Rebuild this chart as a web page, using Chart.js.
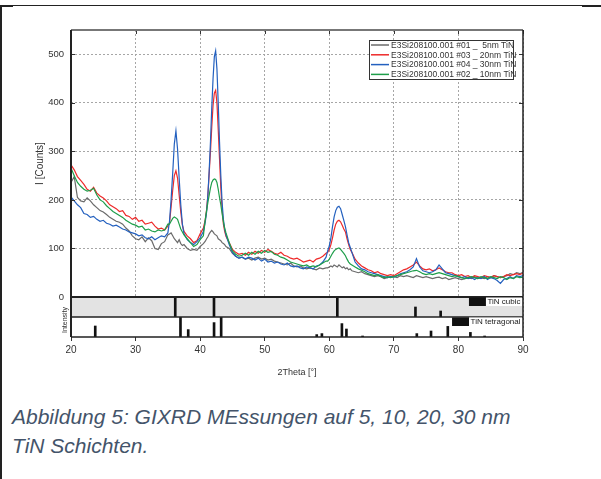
<!DOCTYPE html>
<html>
<head>
<meta charset="utf-8">
<script src="https://cdn.jsdelivr.net/npm/chart.js@4.4.0/dist/chart.umd.min.js"></script>
<style>
  body { margin: 0; background: #fff; width: 601px; height: 479px; overflow: hidden; position: relative; font-family: "Liberation Sans", Arial, sans-serif; }
  #wrap { position: absolute; left: 0; top: 0; width: 601px; height: 390px; }
  .line { position: absolute; background: #222; }
  .caption { position: absolute; left: 12px; top: 402px; font-style: italic; font-size: 21px; line-height: 29px; color: #44546A; white-space: nowrap; }
</style>
</head>
<body>
<div class="line" style="left:0;top:5px;width:601px;height:1px"></div>
<div class="line" style="left:0;top:5px;width:13px;height:2px"></div>
<div class="line" style="left:582px;top:5px;width:19px;height:2px"></div>
<div class="line" style="left:0;top:5px;width:2px;height:474px"></div>
<div id="wrap"><canvas id="xrd" width="601" height="390"></canvas></div>
<div class="caption">Abbildung 5: GIXRD MEssungen auf 5, 10, 20, 30 nm<br>TiN Schichten.</div>
<script>
var twoTheta = [20,20.5,21,21.5,22,22.5,23,23.5,24,24.5,25,25.5,26,26.5,27,27.5,28,28.5,29,29.5,30,30.5,31,31.5,32,32.5,33,33.5,34,34.5,35,
  35.25,35.5,35.75,36,36.25,36.5,36.75,37,37.25,37.5,
  38,38.5,39,39.5,40,40.5,
  40.8,41,41.2,41.4,41.6,41.8,42,42.2,42.4,42.6,42.8,43,43.2,43.4,43.6,43.8,44,
  44.5,45,45.5,46,46.5,47,47.5,48,48.5,49,49.5,50,50.5,51,51.5,52,52.5,53,53.5,54,54.5,55,55.5,56,56.5,57,57.5,58,58.5,59,59.5,
  59.75,60,60.25,60.5,60.75,61,61.25,61.5,61.75,62,62.25,62.5,62.75,63,63.25,63.5,
  64,64.5,65,65.5,66,66.5,67,67.5,68,68.5,69,69.5,70,70.5,71,71.5,72,72.5,73,73.5,74,74.5,75,75.5,76,76.5,77,77.5,78,78.5,79,79.5,80,80.5,81,81.5,82,82.5,83,83.5,84,84.5,85,85.5,86,86.5,87,87.5,88,88.5,89,89.5,90];

// #01 5nm
var gray5nm = [236,248,205,198,196,204,198,190,184,178,175,170,164,160,156,154,150,142,136,126,120,118,124,114,122,116,100,98,110,114,128,
  130,132,126,120,116,112,118,110,106,108,
  100,96,98,96,104,110,
  115,120,124,130,134,137,134,130,128,126,120,118,116,112,110,108,104,
  100,90,84,80,82,78,80,76,80,82,78,80,76,78,74,72,70,68,66,70,64,62,64,60,58,60,58,56,60,58,60,
  60,62,64,62,66,64,62,66,63,60,62,58,60,56,58,54,
  52,50,52,48,46,44,42,44,42,38,40,42,42,40,44,42,44,42,40,44,42,40,42,40,38,40,41,38,40,36,38,40,38,36,38,40,38,42,38,40,38,42,40,44,42,40,42,44,48,46,50,48,51];

// #03 20nm
var red20nm = [272,262,248,240,232,222,218,226,214,208,204,198,190,186,182,176,178,168,166,160,164,156,158,150,152,154,146,140,142,138,146,
  152,185,220,250,260,245,210,175,148,135,
  126,120,112,116,130,142,
  160,180,210,255,300,350,395,420,426,400,345,285,225,180,150,135,125,
  112,98,92,88,90,86,92,88,94,90,96,92,98,94,90,88,92,86,84,80,78,80,76,72,74,76,72,78,80,84,90,
  92,98,108,122,138,150,156,158,155,148,140,134,120,108,98,92,
  78,70,64,60,56,54,50,52,48,46,44,46,44,48,52,56,58,62,66,72,64,58,56,58,54,56,60,56,52,50,50,46,44,46,42,44,40,44,42,40,44,42,40,44,42,40,42,46,44,46,48,46,49];

// #04 30nm
var blue30nm = [206,198,190,184,172,170,164,166,160,156,158,152,150,146,148,144,140,138,134,132,130,126,128,122,120,124,118,122,126,124,132,
  155,200,255,315,342,305,245,190,150,130,
  118,112,108,114,122,135,
  155,175,210,260,320,390,450,495,507,470,400,320,250,195,160,140,128,
  108,92,84,80,82,78,82,80,76,80,74,78,72,74,70,72,68,66,70,64,62,64,60,58,62,60,58,64,66,72,82,
  95,105,122,145,165,178,185,187,182,170,158,145,128,112,102,92,
  72,64,58,56,52,50,48,46,44,42,40,42,41,44,48,50,52,56,62,79,62,54,52,50,52,56,66,58,50,48,46,44,42,40,42,38,40,36,40,38,42,36,40,38,34,28,36,38,42,38,44,42,44];

// #02 10nm
var green10nm = [266,250,236,228,222,218,220,224,210,200,196,188,182,176,172,168,164,158,154,150,148,144,146,138,140,136,134,138,136,138,150,
  150,156,162,165,163,160,150,140,134,128,
  120,112,104,108,118,126,
  160,178,195,210,225,236,241,243,242,236,222,205,190,172,155,142,132,
  112,95,88,84,86,90,86,92,88,94,90,96,92,94,88,86,82,80,76,72,70,68,66,64,66,62,64,62,66,70,74,
  74,78,84,90,95,98,100,101,98,94,90,85,78,72,68,66,
  62,58,55,52,48,46,44,46,42,40,42,40,42,44,46,48,50,52,54,55,52,48,46,48,46,48,50,48,46,44,42,44,42,40,38,40,42,40,38,42,40,38,42,40,38,42,40,36,40,38,42,40,41];

var seriesLabels = ["E3Si208100.001 #01 _  5nm TiN", "E3Si208100.001 #03 _ 20nm TiN", "E3Si208100.001 #04 _ 30nm TiN", "E3Si208100.001 #02 _ 10nm TiN"];

// reference patterns
var cubicPos = [36.3, 42.3, 61.4, 73.5, 77.4];
var cubicInt = [100, 100, 100, 50, 30];
var tetPos = [23.6, 36.8, 38.0, 42.0, 43.1, 57.9, 58.7, 61.8, 62.5, 65.0, 73.4, 75.6, 78.2, 81.7, 83.9];
var tetInt = [55, 100, 37, 72, 100, 12, 17, 67, 40, 5, 17, 30, 53, 23, 5];

var xTicks = [20, 30, 40, 50, 60, 70, 80, 90];

var FONT = "'Liberation Sans', Arial, sans-serif";

function pts(xs, ys) {
    return xs.map(function(x, i) { return { x: x, y: ys[i] }; });
}

function lineSet(label, values, color, order) {
    return {
        type: 'line',
        label: label,
        data: pts(twoTheta, values),
        borderColor: color,
        borderWidth: 1.2,
        pointRadius: 0,
        tension: 0,
        yAxisID: 'y',
        order: order
    };
}

var panelPlugin = {
    id: 'panels',
    beforeDatasetsDraw: function(chart) {
        var ctx = chart.ctx, a = chart.chartArea;
        var c = chart.scales.yCub, t = chart.scales.yTet;
        ctx.save();
        ctx.fillStyle = '#e3e3e3';
        ctx.fillRect(a.left, c.top, a.right - a.left, c.bottom - c.top);
        ctx.fillStyle = '#fff';
        ctx.fillRect(a.left, t.top, a.right - a.left, t.bottom - t.top);
        ctx.restore();
    },
    afterDraw: function(chart) {
        var ctx = chart.ctx, a = chart.chartArea;
        var x = chart.scales.x, y = chart.scales.y, c = chart.scales.yCub, t = chart.scales.yTet;
        ctx.save();

        // inner ticks
        ctx.strokeStyle = '#333';
        ctx.lineWidth = 1;
        ctx.beginPath();
        y.ticks.forEach(function(tk) {
            var py = Math.round(y.getPixelForValue(tk.value)) + 0.5;
            ctx.moveTo(a.left, py); ctx.lineTo(a.left + 4, py);
            ctx.moveTo(a.right, py); ctx.lineTo(a.right - 4, py);
        });
        xTicks.forEach(function(v) {
            var px = Math.round(x.getPixelForValue(v)) + 0.5;
            ctx.moveTo(px, a.top); ctx.lineTo(px, a.top + 4);
        });
        ctx.stroke();

        // frame
        ctx.strokeStyle = '#777';
        ctx.lineWidth = 2;
        ctx.beginPath(); ctx.moveTo(a.left, a.top); ctx.lineTo(a.right, a.top); ctx.stroke();
        ctx.strokeStyle = '#222';
        ctx.lineWidth = 2;
        ctx.beginPath();
        ctx.moveTo(a.left, a.top); ctx.lineTo(a.left, a.bottom);
        ctx.moveTo(a.left, y.bottom); ctx.lineTo(a.right, y.bottom);
        ctx.stroke();
        ctx.lineWidth = 1.5;
        ctx.beginPath();
        ctx.moveTo(a.right, a.top); ctx.lineTo(a.right, a.bottom);
        ctx.moveTo(a.left, c.bottom); ctx.lineTo(a.right, c.bottom);
        ctx.moveTo(a.left, a.bottom); ctx.lineTo(a.right, a.bottom);
        ctx.stroke();

        // pattern labels
        ctx.font = '8px ' + FONT;
        ctx.textBaseline = 'middle';
        [[c, 'TiN cubic'], [t, 'TiN tetragonal']].forEach(function(p) {
            var w = ctx.measureText(p[1]).width + 3;
            var top = p[0].top + 0.5, h = 8.5;
            var lx = a.right - 1 - w;
            ctx.fillStyle = '#111';
            ctx.fillRect(lx - 17, top, 17, h);
            ctx.fillStyle = '#fff';
            ctx.fillRect(lx, top, w, h);
            ctx.fillStyle = '#222';
            ctx.textAlign = 'left';
            ctx.fillText(p[1], lx + 1.5, top + h / 2 + 0.5);
        });

        // legend
        var lx0 = a.right - 154, ly0 = a.top + 10, lw = 144, lh = 39;
        ctx.fillStyle = '#fff';
        ctx.fillRect(lx0, ly0, lw, lh);
        ctx.strokeStyle = '#333';
        ctx.lineWidth = 1;
        ctx.strokeRect(lx0 + 0.5, ly0 + 0.5, lw, lh);
        ctx.font = '8.5px ' + FONT;
        chart.data.datasets.forEach(function(ds, i) {
            if (ds.type !== 'line') return;
            var ly = ly0 + 5 + i * 9.8;
            ctx.strokeStyle = ds.borderColor;
            ctx.lineWidth = 1.5;
            ctx.beginPath(); ctx.moveTo(lx0 + 2, ly); ctx.lineTo(lx0 + 20, ly); ctx.stroke();
            ctx.fillStyle = '#333';
            ctx.fillText(ds.label, lx0 + 22, ly + 0.5);
        });

        // axis titles
        ctx.fillStyle = '#333';
        ctx.textAlign = 'center';
        ctx.font = '9px ' + FONT;
        ctx.fillText('2Theta [°]', (a.left + a.right) / 2, 373);
        ctx.save();
        ctx.translate(40, (y.top + y.bottom) / 2);
        ctx.rotate(-Math.PI / 2);
        ctx.font = '10px ' + FONT;
        ctx.fillText('I [Counts]', 0, 0);
        ctx.restore();
        ctx.save();
        ctx.translate(65, c.bottom + 3);
        ctx.rotate(-Math.PI / 2);
        ctx.font = '7px ' + FONT;
        ctx.fillText('Intensity', 0, 0);
        ctx.restore();

        ctx.restore();
    }
};

var chart = new Chart(document.getElementById('xrd'), {
    type: 'line',
    data: {
        datasets: [
            lineSet(seriesLabels[0], gray5nm, '#6b6b6b', 3),
            lineSet(seriesLabels[1], red20nm, '#ee2a2a', 2),
            lineSet(seriesLabels[2], blue30nm, '#2360bf', 1),
            lineSet(seriesLabels[3], green10nm, '#1e9e4a', 0),
            { type: 'bar', label: 'TiN cubic', data: pts(cubicPos, cubicInt), backgroundColor: '#111', barThickness: 2, yAxisID: 'yCub' },
            { type: 'bar', label: 'TiN tetragonal', data: pts(tetPos, tetInt), backgroundColor: '#111', barThickness: 2, yAxisID: 'yTet' }
        ]
    },
    options: {
        responsive: false,
        devicePixelRatio: 1,
        animation: false,
        layout: { padding: { left: 0, right: 78, top: 30, bottom: 0 } },
        plugins: { legend: { display: false }, tooltip: { enabled: false } },
        scales: {
            x: {
                type: 'linear', min: 20, max: 90, offset: false,
                ticks: { stepSize: 10, color: '#333', font: { size: 10, family: FONT }, padding: 3, maxRotation: 0 },
                grid: { color: '#a6a6a6', lineWidth: 1, drawTicks: true, tickLength: 4, tickColor: '#333', tickBorderDash: [], offset: false },
                border: { display: false, dash: [2, 2] },
                afterFit: function(s) { s.height = 53; }
            },
            y: {
                stack: 'xrd', stackWeight: 267, weight: 3,
                min: 0, max: 550,
                ticks: { stepSize: 50, color: '#333', font: { size: 9.5, family: FONT }, padding: 7,
                    callback: function(v) { return v % 100 === 0 ? v : ''; } },
                grid: { color: '#a6a6a6', lineWidth: 1, drawTicks: false },
                border: { display: false, dash: [2, 2] },
                afterFit: function(s) { s.width = 71; }
            },
            yCub: {
                stack: 'xrd', stackWeight: 20, weight: 2,
                min: 0, max: 100,
                ticks: { display: false },
                grid: { display: false },
                border: { display: false },
                afterFit: function(s) { s.width = 71; }
            },
            yTet: {
                stack: 'xrd', stackWeight: 20, weight: 1,
                min: 0, max: 100,
                ticks: { display: false },
                grid: { display: false },
                border: { display: false },
                afterFit: function(s) { s.width = 71; }
            }
        }
    },
    plugins: [panelPlugin]
});
</script>
</body>
</html>
